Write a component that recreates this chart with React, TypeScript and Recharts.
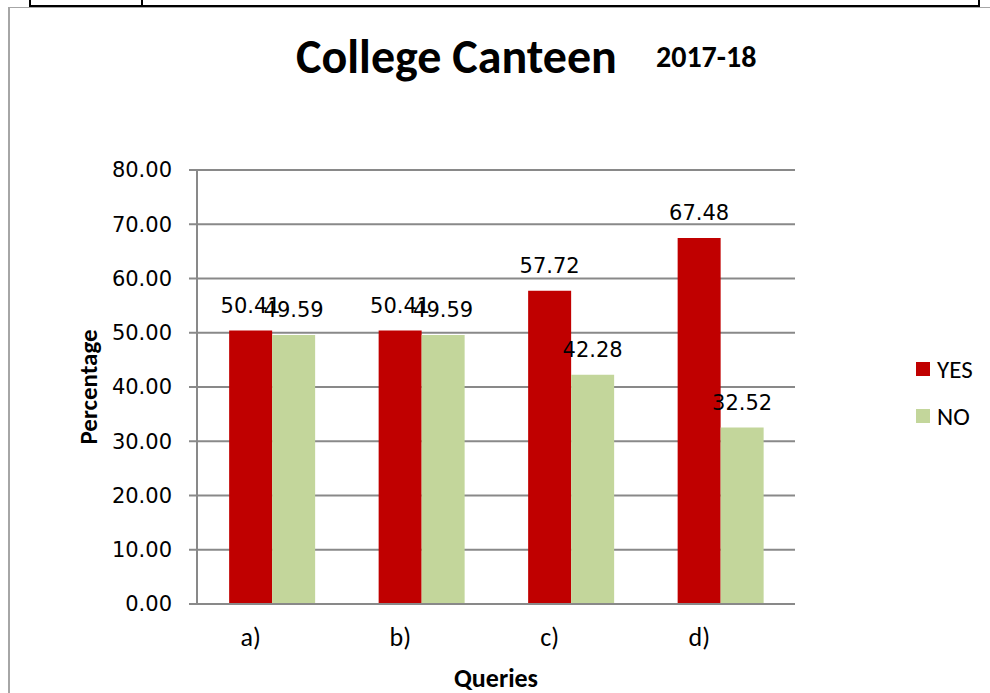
import React from 'react';
import { BarChart, Bar, XAxis, YAxis, CartesianGrid, LabelList } from 'recharts';

const categories = ['a)', 'b)', 'c)', 'd)'];
const yesValues = [50.41, 50.41, 57.72, 67.48];
const noValues = [49.59, 49.59, 42.28, 32.52];
const yTicks = [0, 10, 20, 30, 40, 50, 60, 70, 80];
const seriesNames = ['YES', 'NO'];

const data = categories.map((q, i) => ({ q, YES: yesValues[i], NO: noValues[i] }));

const CAL = '"Carlito", "Liberation Sans Narrow", "Liberation Sans", sans-serif';
const DEJ = '"DejaVu Sans", sans-serif';
const RED = '#C00000';
const GREEN = '#C3D69B';
const GRID = '#898989';
const seriesColors = [RED, GREEN];

export default function App() {
  return (
    <div style={{ position: 'absolute', left: 0, top: 0, width: 990, height: 693, background: '#fff', overflow: 'hidden' }}>
      {/* table lines at top */}
      <div style={{ position: 'absolute', left: 30, top: 5, width: 950, height: 2, background: '#000' }} />
      <div style={{ position: 'absolute', left: 29, top: 0, width: 2, height: 7, background: '#000' }} />
      <div style={{ position: 'absolute', left: 141, top: 0, width: 2, height: 7, background: '#000' }} />
      <div style={{ position: 'absolute', left: 978, top: 0, width: 2, height: 7, background: '#000' }} />
      {/* chart frame */}
      <div style={{ position: 'absolute', left: 8, top: 7, width: 982, height: 1, background: '#a6a6a6' }} />
      <div style={{ position: 'absolute', left: 8, top: 7, width: 2, height: 686, background: '#a6a6a6' }} />
      {/* titles */}
      <div style={{ position: 'absolute', left: 0, top: 28, width: 913, textAlign: 'center', fontFamily: CAL, fontWeight: 'bold', fontSize: 48, lineHeight: '58px', color: '#000' }}>
        College Canteen
      </div>
      <div style={{ position: 'absolute', left: 656, top: 40, fontFamily: CAL, fontWeight: 'bold', fontSize: 30, lineHeight: '34px', color: '#000' }}>
        2017-18
      </div>
      <div style={{ position: 'absolute', left: 0, top: 0 }}>
        <BarChart
          width={990}
          height={693}
          data={data}
          margin={{ top: 170, right: 195, bottom: 0, left: 0 }}
          barCategoryGap="21.5%"
          barGap={0}
        >
          <CartesianGrid vertical={false} stroke={GRID} strokeWidth={2} />
          <XAxis
            dataKey="q"
            tickLine={false}
            tickSize={0}
            tickMargin={24}
            axisLine={{ stroke: GRID, strokeWidth: 2 }}
            tick={{ fontFamily: CAL, fontSize: 26, fill: '#000', dx: -21 }}
            height={89}
            label={{ value: 'Queries', position: 'insideBottom', offset: 6, style: { fontFamily: CAL, fontWeight: 'bold', fontSize: 26, fill: '#000' } }}
          />
          <YAxis
            domain={[0, 80]}
            ticks={yTicks}
            interval={0}
            width={197}
            tickSize={8}
            tickMargin={17}
            tickFormatter={(v: number) => v.toFixed(2)}
            tickLine={{ stroke: GRID, strokeWidth: 2 }}
            axisLine={{ stroke: GRID, strokeWidth: 2 }}
            tick={{ fontFamily: DEJ, fontSize: 21, fill: '#000' }}
            label={{
              content: () => (
                <text x={97} y={387} transform="rotate(-90 97 387)" textAnchor="middle" fontFamily={CAL} fontWeight="bold" fontSize={25} fill="#000">
                  Percentage
                </text>
              ),
            }}
          />
          <Bar dataKey="YES" fill={RED} isAnimationActive={false}>
            <LabelList dataKey="YES" position="top" offset={18} style={{ fontFamily: DEJ, fontSize: 21, fill: '#000' }} formatter={(v: number) => v.toFixed(2)} />
          </Bar>
          <Bar dataKey="NO" fill={GREEN} isAnimationActive={false}>
            <LabelList dataKey="NO" position="top" offset={18} style={{ fontFamily: DEJ, fontSize: 21, fill: '#000' }} formatter={(v: number) => v.toFixed(2)} />
          </Bar>
        </BarChart>
      </div>
      {/* legend */}
      <div style={{ position: 'absolute', left: 916, top: 356, fontFamily: CAL, fontSize: 25, color: '#000' }}>
        {seriesNames.map((n, i) => (
          <div key={n} style={{ display: 'flex', alignItems: 'center', height: 26, marginBottom: i === 0 ? 21 : 0 }}>
            <span style={{ display: 'inline-block', width: 14, height: 14, background: seriesColors[i], marginRight: 7 }} />
            <span>{n}</span>
          </div>
        ))}
      </div>
    </div>
  );
}
